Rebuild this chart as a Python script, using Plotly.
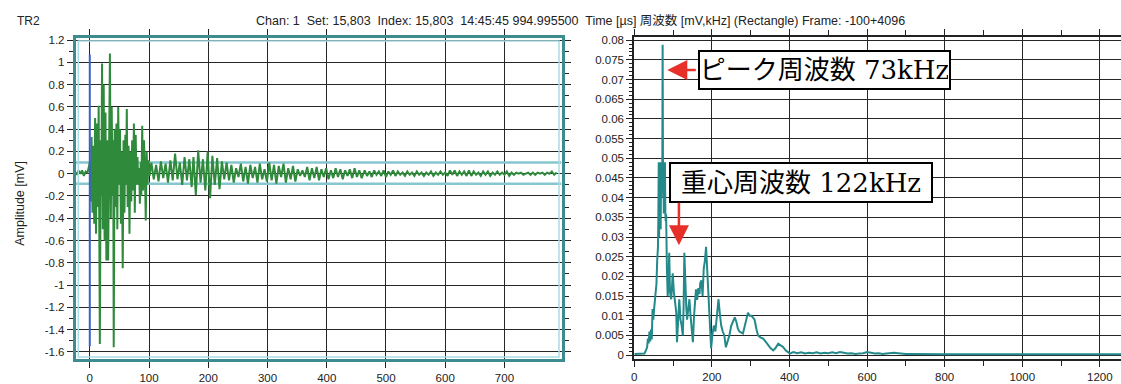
import plotly.graph_objects as go

W, H = 1121, 384

# ---------------- data: time waveform (μs, mV) ----------------
t_pre = [-25, -22, -19, -16, -13, -10, -7, -4, -2]
v_pre = [0.02, -0.01, 0.03, 0.00, 0.03, -0.02, 0.02, 0.01, 0.05]

t_burst = [0, 1.5, 3, 4.5, 6, 7.5, 9, 10.5, 12, 13.5, 15, 17, 18.5, 19.5, 20.7, 22, 23.5, 25,
           26.5, 28, 29.5, 31, 32.5, 34, 35.5, 37, 38.5, 39.5, 40.4, 42, 43.5, 45, 46.5, 48,
           49.5, 51, 52.5, 54, 55.6, 57, 58.5, 60, 61, 62.5, 64, 65.5, 67, 68.5, 70, 71.5, 73,
           74.5, 76, 77.5, 79, 80.5, 82, 83.5, 84.5, 86, 87, 88.5, 90, 91.5, 93, 94.5, 96, 97.5, 99]
v_burst = [0.10, -0.25, 0.33, -0.35, 0.25, -0.45, 0.50, -0.54, 0.45, -0.30, 0.61, -1.53, 0.30,
           -0.20, 0.99, -0.50, 0.80, -0.60, 0.55, -0.78, 0.30, -0.78, 0.20, 1.08, -0.40, 0.60,
           -0.20, 0.30, -1.56, 0.40, -0.30, 0.45, -0.50, 0.60, -0.10, 0.40, -0.45, 0.20, -0.85,
           0.30, -0.35, 0.35, -0.10, 0.58, -0.30, 0.25, -0.54, 0.20, -0.25, 0.30, -0.15, 0.45,
           -0.35, 0.35, -0.10, 0.15, -0.10, 0.05, -0.27, 0.10, -0.20, 0.43, -0.15, 0.30, 0.05,
           -0.42, 0.20, -0.10, 0.12]

t_tail = [101, 104, 108, 112, 116, 120, 124, 128, 132, 136, 140,
          144, 148, 152, 156, 160, 164, 168, 172, 175, 179, 183, 187, 191, 195, 199, 203, 207,
          211, 215, 219, 223, 227,
          231, 235, 239, 243, 247, 251, 255, 259, 263, 267, 271, 275, 279, 283, 287, 291, 295,
          299, 303, 307, 311, 315, 319, 323, 327, 331, 335, 339, 343, 347, 351, 355, 359, 363,
          367, 371, 375, 379, 383, 387, 391, 395, 399, 403, 407, 411, 415, 419, 423, 427, 431,
          435, 439, 443, 447, 451, 455, 459,
          464, 468, 472, 476, 480, 484, 488, 492, 496, 500, 504, 508, 512, 516, 520, 524, 528,
          532, 536, 540, 544, 548, 552, 556, 560, 564, 568, 572, 576, 580, 584, 588, 592, 596,
          600, 604, 608, 612, 616, 620, 624, 628, 632, 636, 640, 644, 648, 652, 656, 660, 664,
          668, 672, 676, 680, 684, 688, 692, 696, 700, 704, 708, 712, 716, 720, 724, 728, 732,
          736, 740, 744, 748, 752, 756, 760, 764, 768, 772, 776, 780, 784, 788]
v_tail = [-0.02, 0.10, -0.05, 0.08, -0.07, 0.11, -0.04, 0.09, -0.08, 0.12, -0.06,
          0.18, -0.05, 0.10, -0.10, 0.15, -0.06, 0.13, -0.12, 0.15, -0.19, 0.21, -0.08, 0.13,
          -0.15, 0.20, -0.22, 0.16, -0.10, 0.14, -0.14, 0.11, -0.05,
          0.10, -0.06, 0.08, -0.08, 0.05, -0.03, 0.09, -0.07, 0.06, -0.09, 0.08, -0.04, 0.06,
          -0.08, 0.09, -0.05, 0.04, -0.07, 0.10, -0.06, 0.08, -0.09, 0.07, -0.03, 0.09, -0.08,
          0.05, -0.05, 0.07, -0.07, 0.04, -0.02, 0.03, -0.03, 0.06, -0.06, 0.05, -0.04, 0.06,
          -0.06, 0.04, -0.03, 0.05, -0.05, 0.03, -0.04, 0.05, -0.03, 0.04, -0.05, 0.03, -0.02,
          0.04, -0.04, 0.05, -0.03, 0.03, -0.04,
          0.03, -0.02, 0.02, -0.03, 0.03, -0.01, 0.02, -0.02, 0.03, -0.03, 0.02, -0.01, 0.03,
          -0.02, 0.02, -0.01, 0.01, -0.02, 0.02, -0.01, 0.01, -0.02, 0.02, -0.01, 0.01, -0.02,
          0.01, -0.01, 0.02, -0.02, 0.01, -0.01, 0.02, -0.01, 0.01, -0.02, 0.03, -0.01, 0.03,
          -0.02, 0.02, -0.01, 0.02, -0.02, 0.03, -0.02, 0.02, -0.01, 0.01, -0.02, 0.02, -0.01,
          0.02, -0.02, 0.01, -0.01, 0.02, -0.01, 0.01, -0.01, 0.02, -0.02, 0.01, -0.01, 0.01,
          0.00, 0.01, -0.01, 0.00, 0.01, -0.01, 0.01, -0.01, 0.01, 0.00, 0.01, -0.01, 0.01,
          0.00, 0.02, -0.01, 0.01]

trigger_t = [0, 0]
trigger_v = [-1.55, 1.07]
thresholds = [0.1, -0.09]

# ---------------- data: spectrum (kHz, mV) ----------------
freq = [0, 10, 20, 26, 30, 33, 35, 37, 39, 41, 43, 45, 47, 49, 51, 53, 55, 57, 59, 61, 62, 63,
        64, 65, 66, 67, 68, 69, 70, 71, 72, 73, 74, 75, 76, 77, 78, 79, 80, 81, 82, 84, 86, 88,
        90, 92, 95, 97, 99, 102, 105, 108, 110, 113, 116, 119, 122, 125, 127, 129, 131, 134,
        136, 139, 142, 145, 148, 151, 154, 157, 159, 162, 165, 168, 170, 173, 176, 179, 182,
        185, 187, 190, 193, 196, 198, 201, 205, 209, 213, 217, 221, 224, 228, 232, 236, 240,
        245, 250, 255, 259, 263, 267, 271, 276, 280, 285, 289, 293, 297, 302, 306, 310, 315,
        319, 325, 332, 338, 345, 351, 358, 364, 371, 378, 384, 390, 396, 401,
        410, 420, 430, 440, 450, 460, 470, 480, 490, 500, 510, 520, 530, 540, 550, 560, 570,
        580, 590, 600, 610, 620, 630, 640, 650, 660, 670, 680, 690, 700, 720, 800, 1000, 1260]
amp = [0.0003, 0.0003, 0.0003, 0.0004, 0.0012, 0.0020, 0.0042, 0.0030, 0.0060, 0.0035, 0.0065,
       0.0040, 0.0117, 0.0090, 0.0117, 0.0135, 0.0150, 0.0180, 0.0240, 0.0275, 0.0350, 0.0490,
       0.0300, 0.0490, 0.0360, 0.0480, 0.0320, 0.0490, 0.0400, 0.0460, 0.0420, 0.0788, 0.0440,
       0.0490, 0.0360, 0.0480, 0.0380, 0.0490, 0.0360, 0.0340, 0.0358, 0.0220, 0.0150, 0.0180,
       0.0260, 0.0160, 0.0142, 0.0170, 0.0208, 0.0160, 0.0133, 0.0110, 0.0033, 0.0090, 0.0142,
       0.0090, 0.0075, 0.0050, 0.0120, 0.0260, 0.0180, 0.0120, 0.0090, 0.0110, 0.0142, 0.0100,
       0.0060, 0.0033, 0.0100, 0.0157, 0.0167, 0.0140, 0.0170, 0.0155, 0.0183, 0.0190, 0.0150,
       0.0220, 0.0240, 0.0275, 0.0240, 0.0180, 0.0133, 0.0060, 0.0017, 0.0050, 0.0075, 0.0060,
       0.0110, 0.0142, 0.0100, 0.0075, 0.0060, 0.0050, 0.0020, 0.0033, 0.0050, 0.0075, 0.0085,
       0.0096, 0.0085, 0.0067, 0.0060, 0.0058, 0.0055, 0.0075, 0.0090, 0.0108, 0.0100, 0.0100,
       0.0095, 0.0090, 0.0065, 0.0050, 0.0045, 0.0042, 0.0035, 0.0025, 0.0018, 0.0012, 0.0018,
       0.0029, 0.0025, 0.0020, 0.0012, 0.0008, 0.0004,
       0.0008, 0.0005, 0.0007, 0.0004, 0.0006, 0.0005, 0.0007, 0.0004, 0.0006, 0.0005, 0.0007,
       0.0005, 0.0008, 0.0006, 0.0004, 0.0005, 0.0003, 0.0004, 0.0005, 0.0008, 0.0006, 0.0004,
       0.0005, 0.0003, 0.0004, 0.0005, 0.0006, 0.0005, 0.0004, 0.0003, 0.0003, 0.0002, 0.0002,
       0.0002]

left_xticks = [0, 100, 200, 300, 400, 500, 600, 700]
left_yticks = [1.2, 1.0, 0.8, 0.6, 0.4, 0.2, 0.0, -0.2, -0.4, -0.6, -0.8, -1.0, -1.2, -1.4, -1.6]
left_ylabels = ["1.2", "1", "0.8", "0.6", "0.4", "0.2", "0", "-0.2", "-0.4", "-0.6", "-0.8",
                "-1", "-1.2", "-1.4", "-1.6"]
right_xticks = [0, 200, 400, 600, 800, 1000, 1200]
right_yticks = [0.08, 0.075, 0.07, 0.065, 0.06, 0.055, 0.05, 0.045, 0.04, 0.035, 0.03, 0.025,
                0.02, 0.015, 0.01, 0.005, 0.0]
right_ylabels = ["0.08", "0.075", "0.07", "0.065", "0.06", "0.055", "0.05", "0.045", "0.04",
                 "0.035", "0.03", "0.025", "0.02", "0.015", "0.01", "0.005", "0"]

header = ("Chan: 1\u00a0 Set: 15,803\u00a0 Index: 15,803\u00a0 14:45:45 994.995500\u00a0 "
          "Time [µs] 周波数 [mV,kHz] (Rectangle) Frame: -100+4096")
peak_label = "ピーク周波数 73kHz"
centroid_label = "重心周波数 122kHz"
peak_arrow = (85, 0.0724)
centroid_arrow = (115, 0.0279)

# ---------------- figure ----------------
GREEN = "#2f8a3c"
TEAL = "#23898a"
FRAME = "#3f8c90"
GRID = "#262626"
FONT = "Liberation Sans, Arial, sans-serif"
LEFT_XRANGE = [-23.6, 796.3]

def px(x):
    return x / W

def py(y):
    return 1 - y / H

fig = go.Figure()
for th in thresholds:
    fig.add_trace(go.Scatter(x=LEFT_XRANGE, y=[th, th], mode="lines",
                             line=dict(color="#86c6cf", width=2.5), xaxis="x", yaxis="y",
                             showlegend=False, hoverinfo="skip"))
fig.add_trace(go.Scatter(x=t_pre + t_burst + t_tail, y=v_pre + v_burst + v_tail, mode="lines",
                         line=dict(color=GREEN, width=2), xaxis="x", yaxis="y",
                         showlegend=False, hoverinfo="skip"))
fig.add_trace(go.Scatter(x=trigger_t, y=trigger_v, mode="lines",
                         line=dict(color="#3d5fc6", width=2), xaxis="x", yaxis="y",
                         showlegend=False, hoverinfo="skip"))
fig.add_trace(go.Scatter(x=freq, y=amp, mode="lines", line=dict(color=TEAL, width=2),
                         xaxis="x2", yaxis="y2", showlegend=False, hoverinfo="skip"))

tickfont = dict(family=FONT, size=11.5, color="#222")

fig.update_layout(
    width=W, height=H, autosize=False,
    margin=dict(l=0, r=0, t=0, b=0),
    paper_bgcolor="white", plot_bgcolor="rgba(0,0,0,0)",
    xaxis=dict(domain=[px(73), px(560)], range=LEFT_XRANGE, tickvals=left_xticks,
               ticks="outside", ticklen=6, tickcolor="#222", tickwidth=1,
               showgrid=True, gridcolor=GRID, gridwidth=1, zeroline=False,
               showline=True, linecolor=FRAME, linewidth=3, mirror="ticks",
               tickfont=tickfont, anchor="y"),
    yaxis=dict(domain=[py(361), py(35)], range=[-1.668, 1.215], tickvals=left_yticks,
               ticktext=left_ylabels, ticks="outside", ticklen=6, tickcolor="#222",
               showgrid=True, gridcolor=GRID, gridwidth=1, zeroline=False,
               showline=True, linecolor=FRAME, linewidth=3, mirror="ticks",
               minor=dict(dtick=0.1, tick0=0, ticks="outside", ticklen=4, tickcolor="#222",
                          showgrid=False),
               tickfont=tickfont, anchor="x"),
    xaxis2=dict(domain=[px(633), 1.0], range=[0, 1254.5], tickvals=right_xticks,
                ticks="outside", ticklen=6, tickcolor="#222",
                showgrid=True, gridcolor=GRID, gridwidth=1, zeroline=False,
                showline=True, linecolor="#222", linewidth=2.5, mirror="ticks",
                minor=dict(dtick=100, tick0=0, ticks="outside", ticklen=5, tickcolor="#222",
                           showgrid=False),
                tickfont=tickfont, anchor="y2"),
    yaxis2=dict(domain=[py(360.5), py(34)], range=[-0.00095, 0.08068], tickvals=right_yticks,
                ticktext=right_ylabels, ticks="outside", ticklen=6, tickcolor="#222",
                showgrid=True, gridcolor=GRID, gridwidth=1, zeroline=False,
                showline=True, linecolor="#222", linewidth=2, mirror=False,
                minor=dict(dtick=0.001, tick0=0, ticks="outside", ticklen=3,
                           tickcolor="#222", showgrid=False),
                tickfont=tickfont, anchor="x2"),
)

# inner light frame of the left panel
fig.add_shape(type="rect", xref="paper", yref="paper", x0=px(75.5), x1=px(557.5),
              y0=py(358.5), y1=py(37.5), line=dict(color="#a9dde4", width=1.5), layer="above")

# header texts
fig.add_annotation(text="TR2", xref="paper", yref="paper", x=px(12), y=py(17),
                   xanchor="left", yanchor="middle", showarrow=False,
                   font=dict(family=FONT, size=12, color="#222"))
fig.add_annotation(text=header, xref="paper", yref="paper", x=px(252), y=py(17),
                   xanchor="left", yanchor="middle", showarrow=False,
                   font=dict(family=FONT + ", Noto Sans CJK JP", size=12.5, color="#222"))
fig.add_annotation(text="Amplitude [mV]", xref="paper", yref="paper", x=px(17), y=py(202),
                   xanchor="center", yanchor="middle", showarrow=False, textangle=-90,
                   font=dict(family=FONT, size=12.5, color="#222"))

# annotation boxes and arrows
boxfont = dict(family="DejaVu Serif, Noto Sans CJK JP, serif", size=26, color="black")
fig.add_annotation(text=peak_label, xref="paper", yref="paper", x=px(697), y=py(47),
                   xanchor="left", yanchor="top", showarrow=False, font=boxfont,
                   width=247, height=34, align="center", valign="middle",
                   bgcolor="white", bordercolor="black", borderwidth=2, borderpad=1)
fig.add_annotation(text=centroid_label, xref="paper", yref="paper", x=px(668), y=py(160),
                   xanchor="left", yanchor="top", showarrow=False, font=boxfont,
                   width=258, height=35, align="center", valign="middle",
                   bgcolor="white", bordercolor="black", borderwidth=2, borderpad=1)
fig.add_annotation(text="", x=peak_arrow[0], y=peak_arrow[1], xref="x2", yref="y2",
                   showarrow=True, ax=30, ay=0, arrowhead=2, arrowsize=1.6,
                   arrowwidth=2.5, arrowcolor="#e8302a")
fig.add_annotation(text="", x=centroid_arrow[0], y=centroid_arrow[1], xref="x2", yref="y2",
                   showarrow=True, ax=0, ay=-44, arrowhead=2, arrowsize=1.6,
                   arrowwidth=2.5, arrowcolor="#e8302a")

fig.write_html("out.html", config={"displayModeBar": False, "staticPlot": True},
               post_script="document.body.style.margin='0';document.body.style.padding='0';")
